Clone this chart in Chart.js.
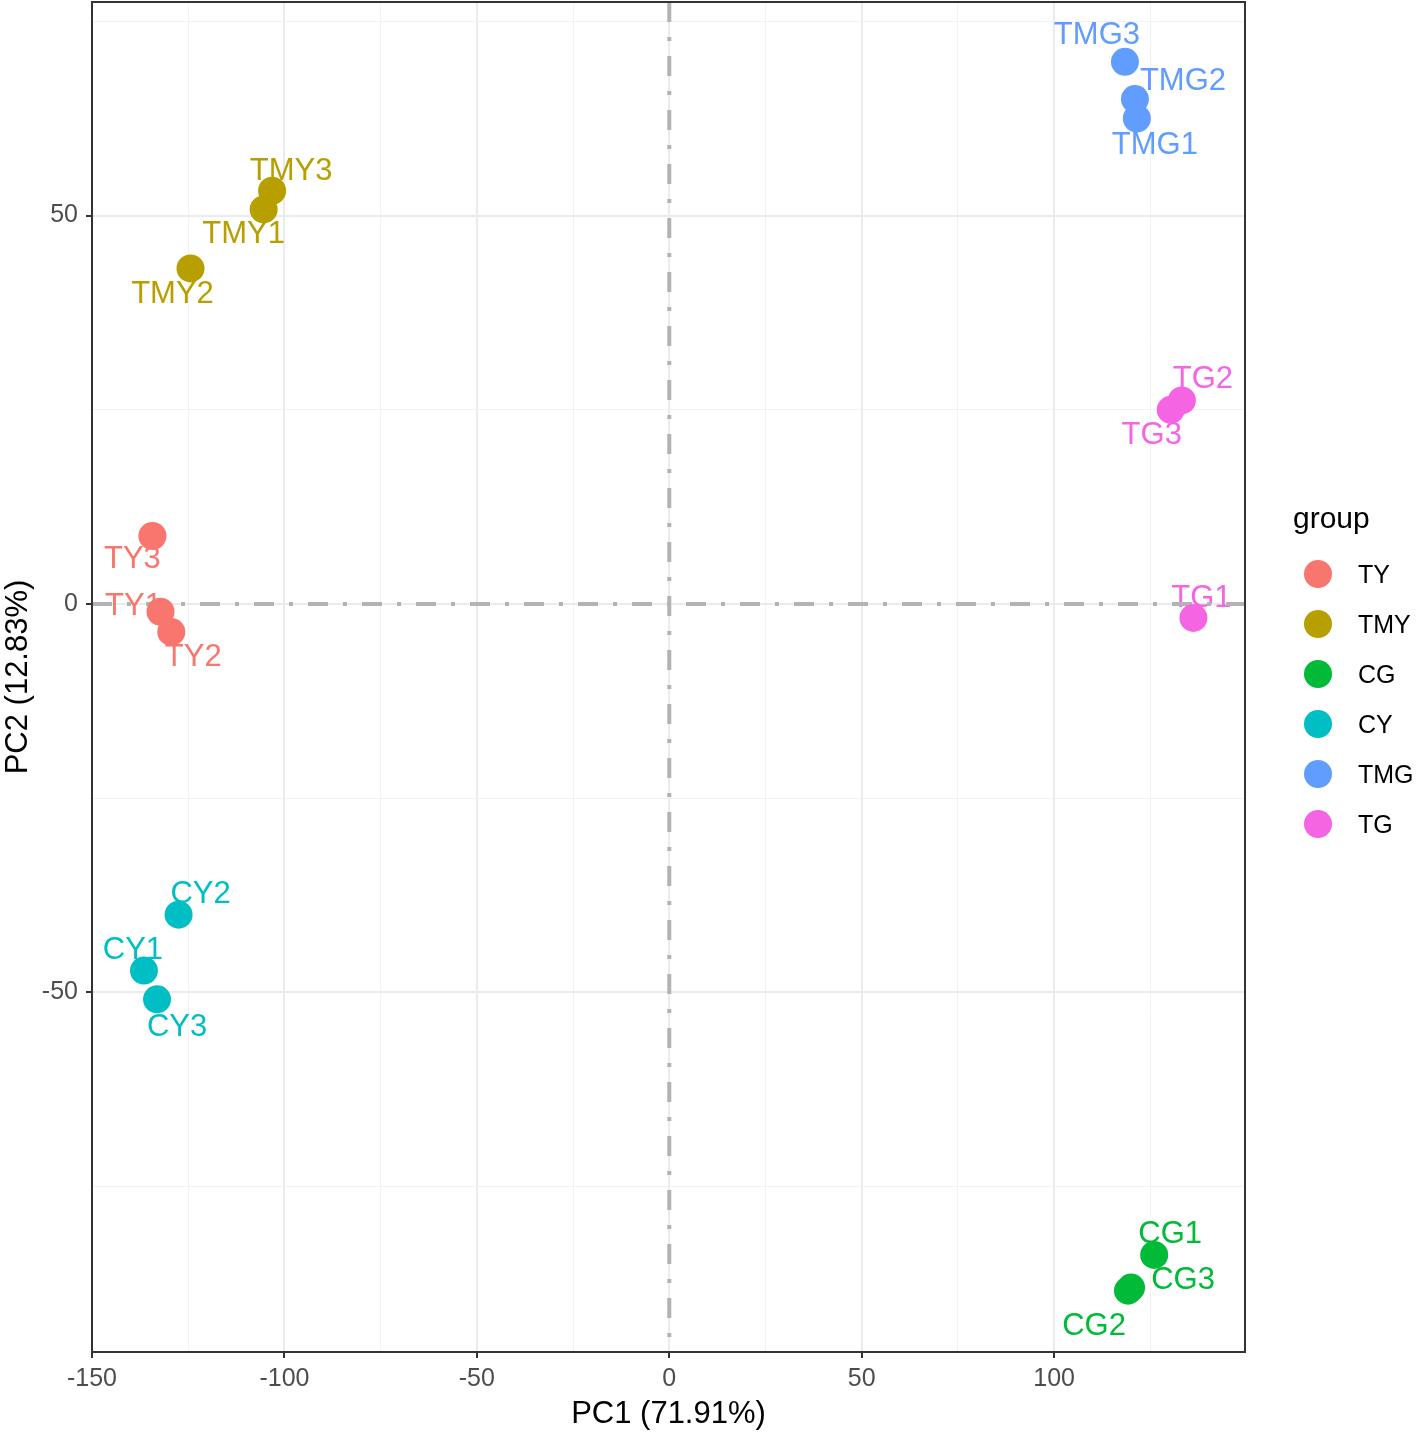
<!DOCTYPE html>
<html>
<head>
<meta charset="utf-8">
<title>PCA</title>
<script src="https://cdn.jsdelivr.net/npm/chart.js@4.4.1/dist/chart.umd.min.js"></script>
<style>
  html, body { margin: 0; padding: 0; background: #ffffff; }
  #wrap { width: 1416px; height: 1433px; }
</style>
</head>
<body>
<div id="wrap"><canvas id="pcaChart"></canvas></div>
<script>
// data
const groups = ["TY", "TMY", "CG", "CY", "TMG", "TG"];
const sampleNames = [
  ["TY1", "TY2", "TY3"],
  ["TMY1", "TMY2", "TMY3"],
  ["CG1", "CG2", "CG3"],
  ["CY1", "CY2", "CY3"],
  ["TMG1", "TMG2", "TMG3"],
  ["TG1", "TG2", "TG3"]
];
const pc1Values = [
  [-132.2, -129.4, -134.3],
  [-105.4, -124.4, -103.2],
  [126.0, 119.2, 120.0],
  [-136.5, -127.5, -133.1],
  [121.5, 121.0, 118.4],
  [136.2, 133.2, 130.3]
];
const pc2Values = [
  [-1.0, -3.6, 8.75],
  [50.8, 43.2, 53.2],
  [-83.8, -88.4, -88.0],
  [-47.2, -40.0, -50.9],
  [62.5, 65.0, 69.8],
  [-1.8, 26.2, 25.0]
];
// grid positions; only the multiples of 50 get a label
const xTicks = [-150, -125, -100, -75, -50, -25, 0, 25, 50, 75, 100, 125];
const yTicks = [-75, -50, -25, 0, 25, 50, 75];
const xTitle = "PC1 (71.91%)";
const yTitle = "PC2 (12.83%)";

// styling
const groupColors = ["#F8766D", "#B79F00", "#00BA38", "#00BFC4", "#619CFF", "#F564E3"];
const fontFamily = "'Liberation Sans', Arial, Helvetica, sans-serif";

// where each text label sits relative to its point (px), like ggrepel did it
const labelNudge = {
  TY1: [-27, -8], TY2: [22, 23], TY3: [-20, 21],
  TMY1: [-20, 23], TMY2: [-18, 24], TMY3: [19, -22],
  CG1: [16, -23], CG2: [-34, 33], CG3: [52, -10],
  CY1: [-11, -23], CY2: [22, -23], CY3: [20, 26],
  TMG1: [18, 24], TMG2: [48, -20], TMG3: [-28, -29],
  TG1: [8, -22], TG2: [21, -23], TG3: [-19, 23]
};

const datasets = groups.map((g, i) => ({
  label: g,
  names: sampleNames[i],
  data: pc1Values[i].map((x, j) => ({ x, y: pc2Values[i][j] })),
  backgroundColor: groupColors[i],
  borderWidth: 0,
  pointRadius: 14,
  pointHoverRadius: 14
}));

const isMajor = v => Math.abs(v % 50) < 1e-6;

const pcaExtras = {
  id: "pcaExtras",
  beforeDatasetsDraw(chart) {
    const { ctx, chartArea, scales } = chart;
    ctx.save();

    // sample labels
    ctx.font = "31px " + fontFamily;
    ctx.textAlign = "center";
    ctx.textBaseline = "alphabetic";
    chart.data.datasets.forEach((ds, i) => {
      chart.getDatasetMeta(i).data.forEach((pt, j) => {
        const name = ds.names[j];
        const nudge = labelNudge[name];
        ctx.fillStyle = ds.backgroundColor;
        ctx.fillText(name, pt.x + nudge[0], pt.y + nudge[1] + 11);
      });
    });

    // dot-dash lines at 0
    const x0 = scales.x.getPixelForValue(0);
    const y0 = scales.y.getPixelForValue(0);
    ctx.strokeStyle = "#B3B3B3";
    ctx.lineWidth = 4;
    ctx.setLineDash([20, 15, 4, 15]);
    ctx.beginPath();
    ctx.moveTo(chartArea.left, y0);
    ctx.lineTo(chartArea.right, y0);
    ctx.moveTo(x0, chartArea.top);
    ctx.lineTo(x0, chartArea.bottom);
    ctx.stroke();
    ctx.restore();
  },
  afterDraw(chart) {
    const { ctx, chartArea } = chart;
    ctx.save();

    // panel border
    ctx.strokeStyle = "#333333";
    ctx.lineWidth = 2;
    ctx.strokeRect(chartArea.left, chartArea.top, chartArea.right - chartArea.left, chartArea.bottom - chartArea.top);

    // legend
    const lx = chartArea.right;
    ctx.fillStyle = "#000000";
    ctx.textAlign = "left";
    ctx.font = "30px " + fontFamily;
    ctx.fillText("group", lx + 48, 528);
    ctx.font = "25px " + fontFamily;
    groups.forEach((g, i) => {
      const cy = 574 + i * 50;
      ctx.fillStyle = groupColors[i];
      ctx.beginPath();
      ctx.arc(lx + 73, cy, 14, 0, Math.PI * 2);
      ctx.fill();
      ctx.fillStyle = "#000000";
      ctx.fillText(g, lx + 113, cy + 9);
    });
    ctx.restore();
  }
};

const gridOpts = {
  color: c => (c.tick && isMajor(c.tick.value) ? "#EBEBEB" : "#F2F2F2"),
  lineWidth: c => (c.tick && isMajor(c.tick.value) ? 2 : 1),
  tickColor: c => (c.tick && isMajor(c.tick.value) ? "#333333" : "rgba(0,0,0,0)"),
  tickLength: 6,
  tickWidth: 2
};

new Chart(document.getElementById("pcaChart"), {
  type: "scatter",
  data: { datasets },
  options: {
    responsive: true,
    maintainAspectRatio: false,
    animation: false,
    layout: {
      autoPadding: false,
      padding: { top: 2, right: 171, left: 0, bottom: 0 }
    },
    plugins: {
      legend: { display: false },
      tooltip: { enabled: false }
    },
    scales: {
      x: {
        type: "linear",
        min: -150,
        max: 149.6,
        afterBuildTicks: s => { s.ticks = xTicks.map(value => ({ value })); },
        afterFit: s => {
          s.height = 81;
          s.paddingLeft = 0;
          s.paddingRight = 0;
        },
        border: { display: false },
        grid: gridOpts,
        ticks: {
          autoSkip: false,
          maxRotation: 0,
          padding: 6,
          color: "#4D4D4D",
          font: { family: fontFamily, size: 25 },
          callback: v => (isMajor(v) ? v : "")
        },
        title: {
          display: true,
          text: xTitle,
          color: "#000000",
          font: { family: fontFamily, size: 31 },
          padding: { top: 0, bottom: 0 }
        }
      },
      y: {
        type: "linear",
        min: -96.3,
        max: 77.5,
        afterBuildTicks: s => { s.ticks = yTicks.map(value => ({ value })); },
        afterFit: s => {
          s.width = 92;
          s.paddingTop = 0;
          s.paddingBottom = 0;
        },
        border: { display: false },
        grid: gridOpts,
        ticks: {
          autoSkip: false,
          padding: 8,
          color: "#4D4D4D",
          font: { family: fontFamily, size: 25 },
          callback: v => (isMajor(v) ? v : "")
        },
        title: {
          display: true,
          text: yTitle,
          color: "#000000",
          font: { family: fontFamily, size: 31 },
          padding: { top: 0, bottom: 0 }
        }
      }
    }
  },
  plugins: [pcaExtras]
});
</script>
</body>
</html>
